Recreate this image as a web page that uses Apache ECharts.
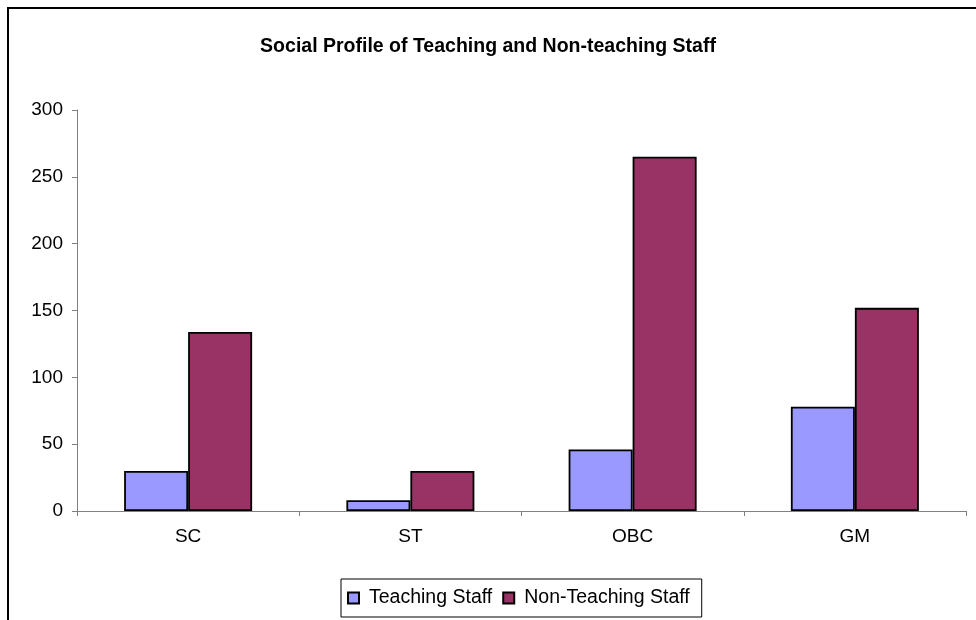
<!DOCTYPE html>
<html>
<head>
<meta charset="utf-8">
<script src="https://cdn.jsdelivr.net/npm/echarts@6/dist/echarts.min.js"></script>
<style>
  html, body { margin: 0; padding: 0; background: #fff; }
  #main { width: 976px; height: 620px; }
</style>
</head>
<body>
<div id="main"></div>
<script>
const categories = ['SC', 'ST', 'OBC', 'GM']
const teachingStaff = [30, 8, 46, 78]
const nonTeachingStaff = [134, 30, 265, 152]
const seriesNames = ['Teaching Staff', 'Non-Teaching Staff']

const font = '"Liberation Sans", Arial, sans-serif'
const chart = echarts.init(document.getElementById('main'))

chart.setOption({
  backgroundColor: '#fff',
  animation: false,
  title: {
    text: 'Social Profile of Teaching and Non-teaching Staff',
    left: 'center',
    top: 32,
    textStyle: { fontFamily: font, fontSize: 19.5, fontWeight: 'bold', color: '#000' }
  },
  // chart frame: only top and left edges are visible in the reference
  graphic: [{
    type: 'rect',
    shape: { x: 8, y: 8, width: 1100, height: 800 },
    style: { fill: 'none', stroke: '#000', lineWidth: 2 },
    silent: true
  }],
  grid: { left: 77, right: 10, top: 110, bottom: 109 },
  legend: {
    data: seriesNames,
    left: 341,
    top: 579,
    padding: [9, 12, 9, 6],
    itemWidth: 11,
    itemHeight: 11,
    itemGap: 10,
    icon: 'rect',
    borderColor: '#000',
    borderWidth: 1,
    borderRadius: 0,
    textStyle: { fontFamily: font, fontSize: 19.5, color: '#000', padding: [0, 0, 0, 5] }
  },
  xAxis: {
    type: 'category',
    data: categories,
    axisLine: { lineStyle: { color: '#808080', width: 1 } },
    axisTick: { show: true, length: 5, lineStyle: { color: '#808080' } },
    axisLabel: { fontFamily: font, fontSize: 19, color: '#000', margin: 16 }
  },
  yAxis: {
    type: 'value',
    min: 0,
    max: 300,
    interval: 50,
    splitLine: { show: false },
    axisLine: { show: true, lineStyle: { color: '#808080', width: 1 } },
    axisTick: { show: true, length: 5, lineStyle: { color: '#808080' } },
    axisLabel: { fontFamily: font, fontSize: 19, color: '#000', margin: 14 }
  },
  series: [
    {
      name: seriesNames[0],
      type: 'bar',
      data: teachingStaff,
      barWidth: 64,
      barGap: '0%',
      itemStyle: { color: '#9999FF', borderColor: '#000', borderWidth: 1.8 }
    },
    {
      name: seriesNames[1],
      type: 'bar',
      data: nonTeachingStaff,
      barWidth: 64,
      barGap: '0%',
      itemStyle: { color: '#993366', borderColor: '#000', borderWidth: 1.8 }
    }
  ]
})
</script>
</body>
</html>
